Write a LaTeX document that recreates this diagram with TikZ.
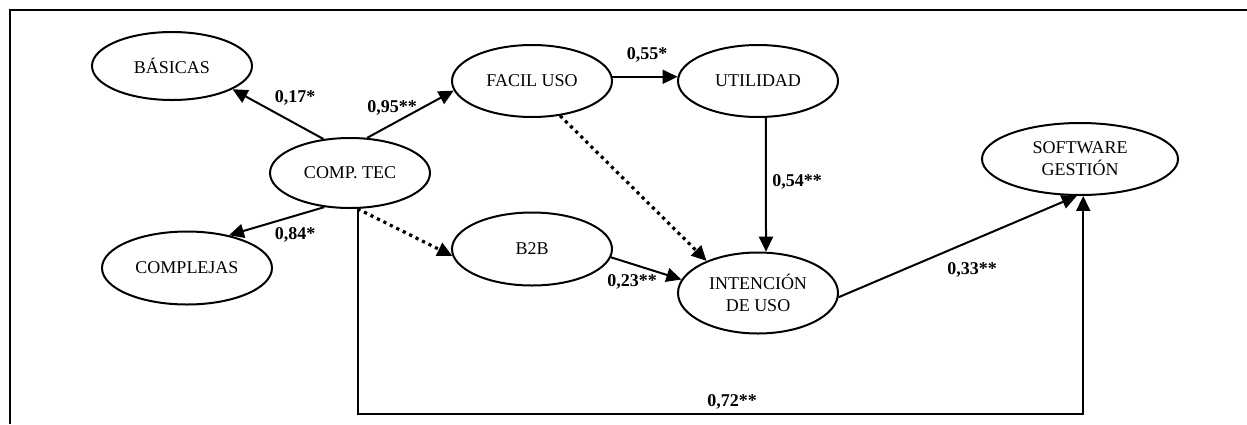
\documentclass[tikz,border=0pt]{standalone}
\usepackage{fontspec}
\setmainfont{Liberation Serif}
\usetikzlibrary{shapes.geometric,arrows.meta}

\begin{document}
\begin{tikzpicture}[x=0.5pt, y=-0.5pt,
    font=\fontsize{9}{11}\selectfont, >={Triangle[length=7.5pt,width=7pt]},
    latent/.style={ellipse, draw, line width=1pt, inner sep=0pt, align=center,
                   minimum width=80pt, minimum height=36pt},
    coef/.style={font=\fontsize{9}{11}\selectfont\bfseries, inner sep=0pt},
    link/.style={->, line width=1pt},
    weak/.style={->, line width=1.6pt, dash pattern=on 1.6pt off 2pt}]
    \useasboundingbox (0,0) rectangle (1247,424);
    % frame
    \draw[line width=1pt] (1247,10) -- (10,10) -- (10,424);
    % constructs
    \node[latent, minimum height=34pt] (basicas) at (172,66) {BÁSICAS};
    \node[latent, minimum height=35pt] (comptec) at (350,173) {COMP. TEC};
    \node[latent, minimum width=85pt, minimum height=36.5pt] (complejas) at (187,268) {COMPLEJAS};
    \node[latent] (facil) at (532,81) {FACIL USO};
    \node[latent] (utilidad) at (758,81) {UTILIDAD};
    \node[latent, minimum height=36.5pt] (btob) at (532,249) {B2B};
    \node[latent, minimum height=40.5pt] (intencion) at (758,293) {INTENCIÓN\\DE USO};
    \node[latent, minimum width=98pt] (software) at (1080,159) {SOFTWARE\\GESTIÓN};
    \coordinate (floor) at (0,414);
    % paths
    \draw[link] (comptec.128) -- (basicas.339);
    \draw[link] (comptec.64) -- (facil.187);
    \draw[link] (comptec.233) -- (complejas.38);
    \draw[weak] (comptec.282) -- (btob.185);
    \draw[link] (facil.3) -- (utilidad.177);
    \draw[weak] (facil.309) -- (intencion.148);
    \draw[link] (utilidad.282) -- (intencion.79);
    \draw[link] (btob.354) -- (intencion.170);
    \draw[link] (intencion.357) -- (software.265);
    \draw[link] (comptec.282) -- (comptec.282 |- floor) -| (software.275);
    % coefficients
    \node[coef] (c17) at (295,98) {0,17*};
    \node[coef] (c95) at (392,108) {0,95**};
    \node[coef] (c84) at (295,235) {0,84*};
    \node[coef] (c55) at (647,55) {0,55*};
    \node[coef] (c54) at (797,182) {0,54**};
    \node[coef] (c23) at (632,282) {0,23**};
    \node[coef] (c33) at (972,270) {0,33**};
    \node[coef] (c72) at (732,402) {0,72**};
\end{tikzpicture}
\end{document}
